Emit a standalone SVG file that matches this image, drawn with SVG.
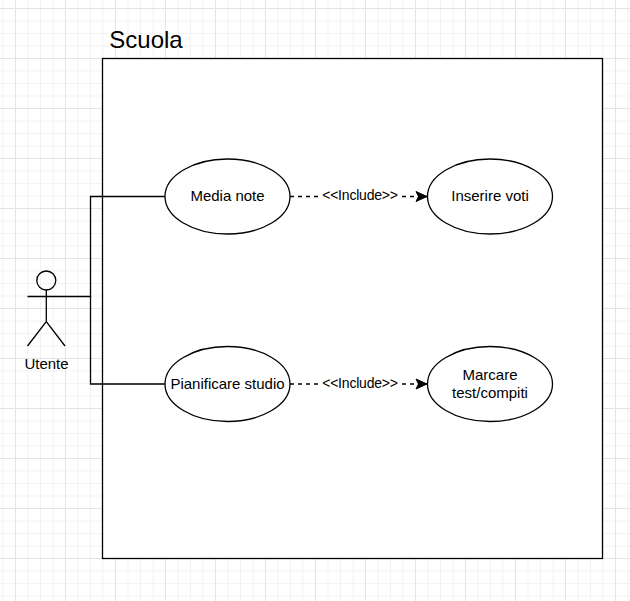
<svg xmlns="http://www.w3.org/2000/svg" width="630" height="601" viewBox="0 0 630 601">
<defs>
<pattern id="grid" width="50" height="50" patternUnits="userSpaceOnUse" x="15" y="8">
<path d="M12.5 0V50M25 0V50M37.5 0V50M0 12.5H50M0 25H50M0 37.5H50" fill="none" stroke="#f3f3f3" stroke-width="1" transform="translate(.5 .5)"/>
<path d="M0 0V50M0 0H50" fill="none" stroke="#e4e4e4" stroke-width="1" transform="translate(.5 .5)"/>
</pattern>
<marker id="arrow" markerUnits="userSpaceOnUse" markerWidth="16" markerHeight="16" refX="14" refY="8" orient="auto">
<path d="M3 3L14 8L3 13L5.500 8Z" fill="#000" stroke="#000"/>
</marker>
</defs>
<style>
.s{fill:none;stroke:#000;stroke-width:1.3}
.u{fill:#fff;stroke:#000;stroke-width:1.3}
.d{fill:none;stroke:#000;stroke-width:1.3;stroke-dasharray:4 4;marker-end:url(#arrow)}
text{font-family:"Liberation Sans",Arial,sans-serif;font-size:15px;fill:#000;text-anchor:middle}
.l{font-size:14px;letter-spacing:-0.2px}
</style>
<rect width="630" height="601" fill="#fff"/>
<rect width="630" height="601" fill="url(#grid)"/>
<g id="boundary">
<rect class="u" x="102.500" y="58.500" width="500" height="500"/>
<text x="146" y="48" style="font-size:24px">Scuola</text>
</g>
<g id="connectors">
<path class="s" d="M65 296.500H90.500V196.500H165"/>
<path class="s" d="M90.500 296.500V384H165"/>
<path class="d" d="M290 196.500H427"/>
<path class="d" d="M290 384H427"/>
<rect x="322" y="187" width="76" height="18" fill="#fff"/>
<rect x="322" y="375" width="76" height="18" fill="#fff"/>
<text class="l" x="360" y="200">&lt;&lt;Include&gt;&gt;</text>
<text class="l" x="360" y="388">&lt;&lt;Include&gt;&gt;</text>
</g>
<g id="actor">
<circle class="s" cx="46.300" cy="280.500" r="9.500"/>
<path class="s" d="M46.300 290V321.500M27.500 296.500H65M27.500 346L46.300 321.500L65 346"/>
<text x="46.500" y="369">Utente</text>
</g>
<g id="media-note">
<ellipse class="u" cx="227.500" cy="196.500" rx="62.500" ry="37.500"/>
<text x="227.500" y="201">Media note</text>
</g>
<g id="inserire-voti">
<ellipse class="u" cx="490" cy="196.500" rx="62.500" ry="37.500"/>
<text x="490" y="201">Inserire voti</text>
</g>
<g id="pianificare-studio">
<ellipse class="u" cx="227.500" cy="384" rx="62.500" ry="37.500"/>
<text x="227.500" y="389">Pianificare studio</text>
</g>
<g id="marcare">
<ellipse class="u" cx="490" cy="384" rx="62.500" ry="37.500"/>
<text x="490" y="380">Marcare</text>
<text x="490" y="398">test/compiti</text>
</g>
</svg>
